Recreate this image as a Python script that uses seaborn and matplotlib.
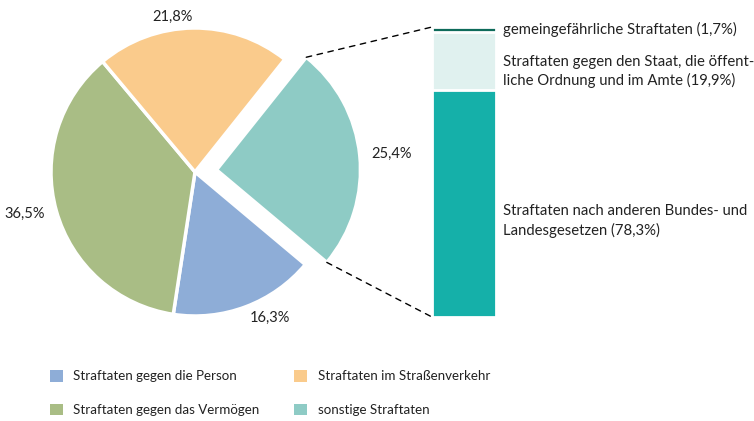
import matplotlib
matplotlib.use("Agg")
import matplotlib.pyplot as plt
from matplotlib.patches import Patch, ConnectionPatch
import seaborn as sns
import pandas as pd
import numpy as np

# ---- data ----
pie_labels = ["Straftaten gegen die Person", "Straftaten gegen das Vermögen",
              "Straftaten im Straßenverkehr", "sonstige Straftaten"]
pie_values = [16.3, 36.5, 21.8, 25.4]
pie_text = ["16,3%", "36,5%", "21,8%", "25,4%"]

bar_labels = ["gemeingefährliche Straftaten (1,7%)",
              "Straftaten gegen den Staat, die öffent-\nliche Ordnung und im Amte (19,9%)",
              "Straftaten nach anderen Bundes- und\nLandesgesetzen (78,3%)"]
bar_values = [1.7, 19.9, 78.3]

# ---- style ----
pie_colors = ["#8eadd7", "#a9bd85", "#facb8c", "#8ecbc5"]
bar_colors = ["#0e6b5a", "#e0f1ef", "#15b0a9"]

sns.set_theme(style="white")
plt.rcParams["font.family"] = ["Lato", "DejaVu Sans"]
TXT = "#222222"

fig = plt.figure(figsize=(7.54, 4.21), dpi=100)

# pie axes in pixel units
CX, CY, R = 195, 249, 144
ax = fig.add_axes([0, 0, 1, 1])
wedges, texts = ax.pie(pie_values, colors=pie_colors, startangle=-40,
                       counterclock=False, explode=[0, 0, 0, 0.15 * R],
                       center=(CX, CY), radius=R, labels=pie_text,
                       labeldistance=1.08,
                       wedgeprops=dict(edgecolor="white", linewidth=2.5),
                       textprops=dict(fontsize=10.5, color=TXT))
for w, t in zip(wedges, texts):
    tx, ty = t.get_position()
    t.set_ha("left" if tx >= w.center[0] else "right")
ax.set_xlim(0, 754)
ax.set_ylim(0, 421)
ax.set_aspect("equal")
ax.axis("off")

# stacked bar (cumulative overlay)
bax = fig.add_axes([432 / 754, 104 / 421, 64 / 754, 290 / 421])
cum = list(reversed(np.cumsum(list(reversed(bar_values)))))
df = pd.DataFrame({"v": cum, "c": bar_colors})
for i in range(len(df)):
    sns.barplot(x=[0], y=[df["v"][i]], color=df["c"][i], saturation=1,
                width=1, edgecolor="white", linewidth=2, ax=bax)
bax.set_xlim(-0.5, 0.5)
bax.set_ylim(0, 100)
bax.axis("off")

label_y = [99.3, 84.7, 33.1]
for lab, y in zip(bar_labels, label_y):
    bax.text(1.11, y, lab, transform=bax.get_yaxis_transform(),
             fontsize=10.7, color=TXT, va="center", ha="left", linespacing=1.35)

# connector lines from teal wedge to bar
w = wedges[3]
cx, cy = w.center
r = w.r
t_hi, t_lo = np.deg2rad(w.theta2), np.deg2rad(w.theta1)
top_pt = (cx + r * np.cos(t_hi), cy + r * np.sin(t_hi))
bot_pt = (cx + r * np.cos(t_lo), cy + r * np.sin(t_lo))
for p, q in [(top_pt, (-0.5, 100)), (bot_pt, (-0.5, 0))]:
    con = ConnectionPatch(xyA=p, coordsA=ax.transData, xyB=q, coordsB=bax.transData,
                          color="black", lw=1, linestyle=(0, (4, 4)))
    fig.add_artist(con)

# legend
handles = [Patch(facecolor=c, edgecolor="none") for c in pie_colors]
fig.legend(handles, pie_labels, loc="upper left", bbox_to_anchor=(50 / 754, 1 - 370 / 421),
           ncol=2, frameon=False, fontsize=9.6, handlelength=0.95, handleheight=0.95,
           handletextpad=0.8, columnspacing=2.6, labelspacing=1.6,
           borderpad=0, borderaxespad=0, labelcolor=TXT)

fig.savefig("out.png", dpi=100)
